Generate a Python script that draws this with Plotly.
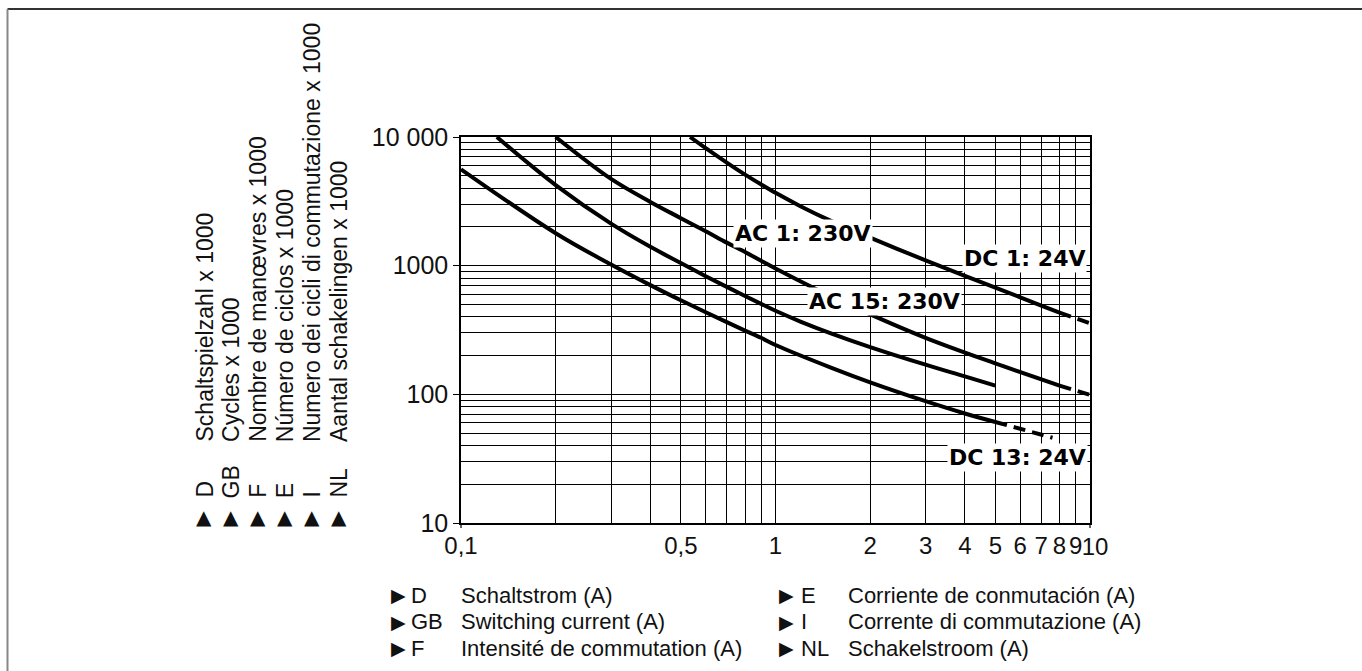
import plotly.graph_objects as go

# ---------------- data ----------------
# top curve (broken by the "AC 1: 230V" label)
x_top = [0.535, 0.6, 0.7, 0.8, 0.9, 1.0, 1.2, 1.5, 2.0, 3.0, 4.0, 5.0, 6.0, 7.0, 8.0]
y_top = [10000, 8180, 6320, 5100, 4280, 3680, 2900, 2230, 1650, 1100, 834, 675, 568, 490, 431]
x_top_ext = [8.0, 10.0]
y_top_ext = [431, 357]

# third curve from bottom
x_c = [0.2, 0.3, 0.4, 0.5, 0.6, 0.7, 0.8, 0.9, 1.0, 1.3, 1.8, 3.0, 5.0, 8.0]
y_c = [10000, 4720, 3130, 2340, 1850, 1510, 1275, 1090, 950, 685, 470, 275, 174, 117]
x_c_ext = [8.0, 10.0]
y_c_ext = [117, 99]

# second curve from bottom
x_b = [0.13, 0.2, 0.3, 0.4, 0.5, 0.6, 0.7, 0.8, 0.9, 1.0, 1.2, 1.5, 2.0, 3.0, 4.0, 5.0]
y_b = [10000, 4230, 2120, 1400, 1047, 829, 684, 581, 505, 446, 368, 298, 233, 170, 138, 117]

# lowest curve
x_a = [0.1, 0.2, 0.3, 0.4, 0.5, 0.6, 0.7, 0.8, 0.9, 1.0, 1.5, 2.0, 3.0, 4.0, 5.0]
y_a = [5610, 1787, 1021, 706, 538, 434, 364, 313, 275, 242, 161.5, 124, 88.5, 71, 61]
x_a_ext = [5.0, 7.6]
y_a_ext = [61, 46]

curve_labels = ["AC 1: 230V", "DC 1: 24V", "AC 15: 230V", "DC 13: 24V"]

x_tick_vals = [0.1, 0.5, 1, 2, 3, 4, 5, 6, 7, 8, 9]
x_tick_text = ["0,1", "0,5", "1", "2", "3", "4", "5", "6", "7", "8", "9"]
x_last_tick_val = [10]
x_last_tick_text = ["10"]
x_minor_vals = [0.2, 0.3, 0.4, 0.6, 0.7, 0.8, 0.9]
y_tick_vals = [10, 100, 1000, 10000]
y_tick_text = ["10", "100", "1000", "10 000"]
y_minor_vals = [m * d for d in (10, 100, 1000) for m in range(2, 10)]

left_codes = ["D", "GB", "F", "E", "I", "NL"]
left_texts = ["Schaltspielzahl x 1000", "Cycles x 1000", "Nombre de manœvres x 1000",
              "Número de ciclos x 1000", "Numero dei cicli di commutazione x 1000",
              "Aantal schakelingen x 1000"]
bottom_codes_left = ["D", "GB", "F"]
bottom_texts_left = ["Schaltstrom (A)", "Switching current (A)", "Intensité de commutation (A)"]
bottom_codes_right = ["E", "I", "NL"]
bottom_texts_right = ["Corriente de conmutación (A)", "Corrente di commutazione (A)", "Schakelstroom (A)"]

# ---------------- layout helpers ----------------
W, H = 1362, 671
PL, PR, PT, PB = 461, 1090, 137, 523  # plot area in pixels


def px_x(px):
    return (px - PL) / (PR - PL)


def px_y(py):
    return (PB - py) / (PB - PT)


SANS = "Liberation Sans, Arial, Helvetica, sans-serif"
BOLD = "DejaVu Sans, Verdana, sans-serif"
INK = "#111111"

fig = go.Figure()


def add_curve(xs, ys, dash="solid"):
    fig.add_trace(go.Scatter(
        x=xs, y=ys, mode="lines",
        line=dict(color="#000000", width=4, dash=dash, shape="spline", smoothing=1.0),
        hoverinfo="skip", showlegend=False))


add_curve(x_top, y_top)
add_curve(x_top_ext, y_top_ext, "12px,7px")
add_curve(x_c, y_c)
add_curve(x_c_ext, y_c_ext, "12px,7px")
add_curve(x_b, y_b)
add_curve(x_a, y_a)
add_curve(x_a_ext, y_a_ext, "12px,7px")

grid = dict(showgrid=True, gridcolor="#000000", gridwidth=1)
tick_font = dict(family=SANS, size=24, color=INK)

fig.update_layout(
    width=W, height=H, autosize=False,
    margin=dict(l=PL, r=W - PR, t=PT, b=H - PB, pad=0),
    paper_bgcolor="white", plot_bgcolor="white", showlegend=False,
    xaxis=dict(type="log", range=[-1, 1], tickmode="array", tickvals=x_tick_vals,
               ticktext=x_tick_text, ticks="", ticklabelstandoff=0, tickangle=0,
               tickfont=tick_font,
               minor=dict(tickmode="array", tickvals=x_minor_vals, ticks="", **grid),
               showline=True, linecolor="#000000", linewidth=1.5, mirror=True,
               zeroline=False, fixedrange=True, **grid),
    # companion axis that only carries the "10" label, nudged right as in the original
    xaxis2=dict(type="log", range=[-1, 1], overlaying="x", side="bottom", anchor="y",
                tickmode="array", tickvals=x_last_tick_val, ticktext=x_last_tick_text,
                ticks="", ticklabelstandoff=7, ticklabelshift=5, tickangle=0,
                tickfont=tick_font, showgrid=False, showline=False, zeroline=False,
                fixedrange=True),
    yaxis=dict(type="log", range=[1, 4], tickmode="array", tickvals=y_tick_vals,
               ticktext=y_tick_text, ticks="outside", ticklen=6, tickcolor="#000000",
               tickwidth=1.2, tickfont=dict(family=SANS, size=25, color=INK),
               minor=dict(tickmode="array", tickvals=y_minor_vals, ticks="", **grid),
               showline=True, linecolor="#000000", linewidth=1.5, mirror=True,
               zeroline=False, fixedrange=True, **grid),
)
# invisible trace so that the companion axis is drawn
fig.add_trace(go.Scatter(x=x_last_tick_val, y=[None], xaxis="x2", yaxis="y",
                         mode="lines", hoverinfo="skip", showlegend=False))

annotations = []

# curve labels (white boxes interrupt the curves and grid)
label_pos = [(802.5, 233), (1024, 258), (884, 301), (1017, 457)]
for txt, (lx, ly) in zip(curve_labels, label_pos):
    annotations.append(dict(
        text=f"<b>{txt}</b>", x=px_x(lx), y=px_y(ly), xref="paper", yref="paper",
        showarrow=False, xanchor="center", yanchor="middle",
        font=dict(family=BOLD, size=22, color="#000000"),
        bgcolor="white", borderpad=1))

# left rotated legend
for i, (code, txt) in enumerate(zip(left_codes, left_texts)):
    cx = 204 + i * 26.9
    annotations.append(dict(text="▲", x=px_x(cx), y=px_y(516.5), xref="paper", yref="paper",
                            showarrow=False, xanchor="center", yanchor="middle",
                            font=dict(family=BOLD, size=20, color=INK)))
    annotations.append(dict(text=code, x=px_x(cx), y=px_y(499), xref="paper", yref="paper",
                            showarrow=False, xanchor="center", yanchor="bottom", textangle=-90,
                            font=dict(family=SANS, size=23, color=INK), borderpad=0))
    annotations.append(dict(text=txt, x=px_x(cx), y=px_y(443), xref="paper", yref="paper",
                            showarrow=False, xanchor="center", yanchor="bottom", textangle=-90,
                            font=dict(family=SANS, size=23, color=INK), borderpad=0))

# bottom legend
rows_y = [595, 621.7, 648.3]
for group, (tri_x, code_x, text_x) in (((bottom_codes_left, bottom_texts_left), (398, 410, 460)),
                                        ((bottom_codes_right, bottom_texts_right), (786, 800, 847))):
    codes, texts = group
    for code, txt, ry in zip(codes, texts, rows_y):
        annotations.append(dict(text="▶", x=px_x(tri_x), y=px_y(ry), xref="paper", yref="paper",
                                showarrow=False, xanchor="center", yanchor="middle",
                                font=dict(family=BOLD, size=19, color=INK)))
        annotations.append(dict(text=code, x=px_x(code_x), y=px_y(ry), xref="paper", yref="paper",
                                showarrow=False, xanchor="left", yanchor="middle",
                                font=dict(family=SANS, size=22, color=INK), borderpad=0))
        annotations.append(dict(text=txt, x=px_x(text_x), y=px_y(ry), xref="paper", yref="paper",
                                showarrow=False, xanchor="left", yanchor="middle",
                                font=dict(family=SANS, size=22, color=INK), borderpad=0))

fig.update_layout(annotations=annotations)

# outer frame (top and left edges visible) and end ticks of the x axis
shapes = [
    dict(type="line", xref="paper", yref="paper", x0=px_x(7.5), x1=px_x(1365),
         y0=px_y(9), y1=px_y(9), line=dict(color="#333333", width=2)),
    dict(type="line", xref="paper", yref="paper", x0=px_x(7.5), x1=px_x(7.5),
         y0=px_y(9), y1=px_y(680), line=dict(color="#888888", width=2)),
    dict(type="line", xref="paper", yref="paper", x0=0, x1=0,
         y0=0, y1=px_y(528), line=dict(color="#000000", width=1.2)),
    dict(type="line", xref="paper", yref="paper", x0=1, x1=1,
         y0=0, y1=px_y(528), line=dict(color="#000000", width=1.2)),
]
fig.update_layout(shapes=shapes)

fig.write_html("out.html", config={"displayModeBar": False},
               post_script="document.body.style.margin='0';document.body.style.overflow='hidden';")
